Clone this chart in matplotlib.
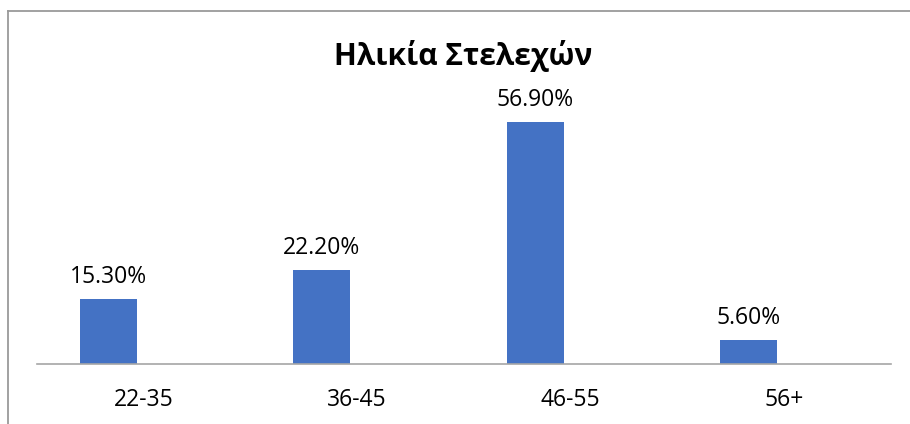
import numpy as np
import matplotlib
matplotlib.use("Agg")
import matplotlib.pyplot as plt
from matplotlib.lines import Line2D

# chart data
categories = ["22-35", "36-45", "46-55", "56+"]
values = [15.3, 22.2, 56.9, 5.6]
value_labels = ["15.30%", "22.20%", "56.90%", "5.60%"]
title = "Ηλικία Στελεχών"

plt.rcParams["font.family"] = ["Open Sans", "DejaVu Sans"]

W, H = 910, 424
fig = plt.figure(figsize=(W / 100, H / 100), dpi=100)

# axes placed in pixel terms: baseline y=364, x from 37 to 891
ax = fig.add_axes([37 / W, (H - 364) / H, (891 - 37) / W, (364 - 109) / H])

x = np.arange(len(categories))
bar_offset = -0.166
bars = ax.bar(x + bar_offset, values, width=0.267, color="#4472C4")

for rect, lab in zip(bars, value_labels):
    ax.annotate(lab, (rect.get_x() + rect.get_width() / 2, rect.get_height()),
                xytext=(0, 7), textcoords="offset points",
                ha="center", va="bottom", fontsize=16.5, color="#000000")

ax.set_xlim(-0.5, len(categories) - 0.5)
ax.set_ylim(0, 60)
ax.set_yticks([])
ax.set_xticks(x)
ax.set_xticklabels(categories, fontsize=16.5)
ax.tick_params(axis="x", length=0, pad=17)
for side in ["top", "left", "right"]:
    ax.spines[side].set_visible(False)
ax.spines["bottom"].set_color("#a6a6a6")
ax.spines["bottom"].set_linewidth(1.2)

fig.text(463 / W, 1 - 56 / H, title, ha="center", va="center",
         fontsize=21.5, fontweight="bold")

# chart frame (only top and left edges fall inside the image)
fig.add_artist(Line2D([7.5 / W, 7.5 / W], [0, 1 - 10.5 / H], color="#9a9a9a", lw=1.3))
fig.add_artist(Line2D([7.5 / W, 1], [1 - 10.5 / H, 1 - 10.5 / H], color="#9a9a9a", lw=1.3))

fig.savefig("out.png", dpi=100)
